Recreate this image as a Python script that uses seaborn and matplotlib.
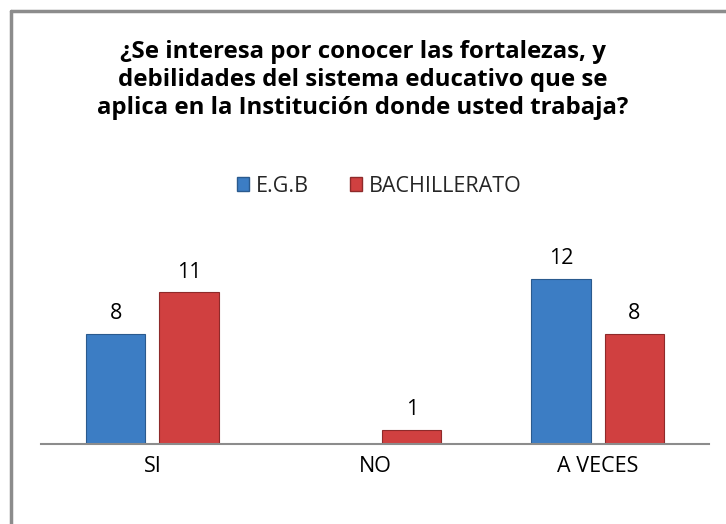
import matplotlib
matplotlib.use("Agg")
import matplotlib.pyplot as plt
import seaborn as sns
import pandas as pd
from matplotlib.lines import Line2D
from matplotlib.patches import Patch

categories = ["SI", "NO", "A VECES"]
series_names = ["E.G.B", "BACHILLERATO"]
egb_values = [8, 0, 12]
bach_values = [11, 1, 8]
title = "¿Se interesa por conocer las fortalezas, y\ndebilidades del sistema educativo que se\naplica en la Institución donde usted trabaja?"

colors = ["#3C7DC4", "#D04040"]
edge_colors = ["#2A5A8E", "#8E2A2A"]

df = pd.DataFrame({
    "cat": categories * 2,
    "serie": [series_names[0]] * 3 + [series_names[1]] * 3,
    "val": egb_values + bach_values,
})

sns.set_theme(style="white")
plt.rcParams["font.family"] = ["Open Sans", "DejaVu Sans"]

W, H = 726, 524
fig = plt.figure(figsize=(W / 100, H / 100), dpi=100)
ax = fig.add_axes([41 / W, 1 - 444 / H, (709 - 41) / W, (444 - 251) / H])

sns.barplot(data=df, x="cat", y="val", hue="serie", order=categories,
            hue_order=series_names, palette=colors, width=0.66, gap=0.19,
            saturation=1, ax=ax, legend=False)

for i, cont in enumerate(ax.containers):
    for bar in cont:
        bar.set_edgecolor(edge_colors[i])
        bar.set_linewidth(0.8)
    labels = [str(int(v)) if v > 0 else "" for v in cont.datavalues]
    ax.bar_label(cont, labels=labels, padding=7, fontsize=15.5, color="#000000")

ax.set_ylim(0, 14)
ax.set_xlim(-0.5, 2.5)
ax.set_xlabel("")
ax.set_ylabel("")
ax.set_yticks([])
for s in ["top", "right", "left"]:
    ax.spines[s].set_visible(False)
ax.spines["bottom"].set_color("#8C8C8C")
ax.spines["bottom"].set_linewidth(1.5)
ax.tick_params(axis="x", length=0, pad=9, labelsize=15.5, colors="#000000")

fig.text(0.5, 1 - 80 / H, title, ha="center", va="center", fontsize=17.3,
         fontweight="bold", linespacing=1.2, color="#000000")

handles = [Patch(facecolor=colors[i], edgecolor=edge_colors[i]) for i in range(2)]
fig.legend(handles, series_names, loc="center", bbox_to_anchor=(379 / W, 1 - 186 / H),
           ncol=2, frameon=False, fontsize=15.5, handlelength=0.58, handleheight=0.58,
           handletextpad=0.3, columnspacing=1.9)

fig.add_artist(Line2D([11 / W, 11 / W], [0, 1 - 11 / H], color="#8C8C8C", lw=2.5))
fig.add_artist(Line2D([11 / W, 1], [1 - 11 / H, 1 - 11 / H], color="#8C8C8C", lw=2.5))

fig.savefig("out.png", dpi=100, facecolor="white")
